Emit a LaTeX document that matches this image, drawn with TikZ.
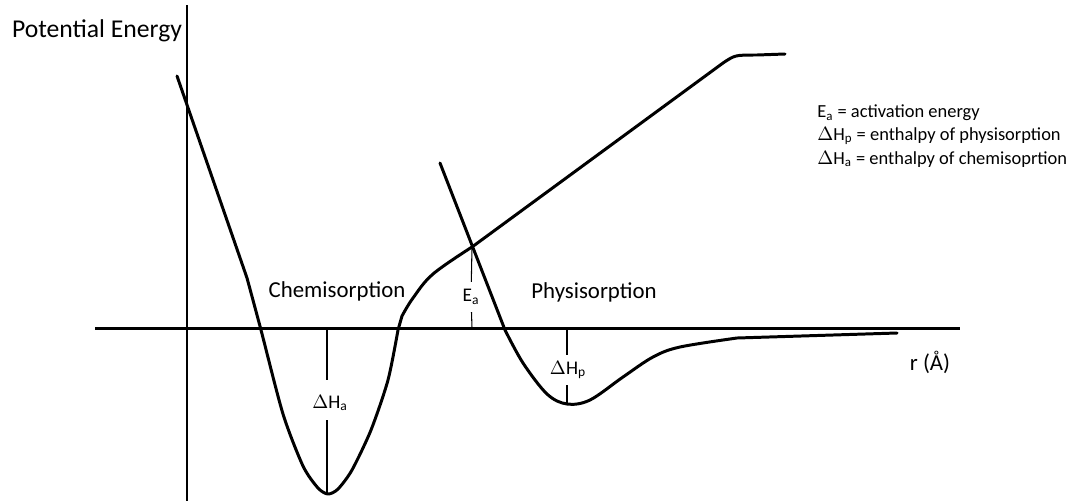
\documentclass[tikz,border=0pt]{standalone}
\usepackage{fontspec}
\setmainfont{Carlito}
\begin{document}
\begin{tikzpicture}[x=0.02cm,y=-0.02cm,
    axis/.style={line width=1.7pt},
    curve/.style={line width=1.7pt,line join=round,line cap=round},
    guide/.style={line width=0.6pt},
    lbl/.style={font=\fontsize{13}{15}\selectfont,inner sep=0pt},
    small/.style={font=\fontsize{11}{13}\selectfont,inner sep=2pt},
    legend/.style={font=\fontsize{10.5}{12}\selectfont,anchor=west,inner sep=0pt}]
    \useasboundingbox (0,0) rectangle (1087,501);

    % Axes
    \coordinate (ytop) at (187,5);
    \coordinate (ybot) at (187,501);
    \coordinate (xleft) at (95,328);
    \coordinate (xright) at (960,328);
    \draw[axis] (ytop) -- (ybot);
    \draw[axis] (xleft) -- (xright);
    \node[lbl,font=\fontsize{14.6}{16}\selectfont] (ylab) at (97,31) {Potential Energy};
    \node[lbl] (xlab) at (930,362) {r (Å)};

    % Chemisorption curve
    \draw[curve] (177,76) -- (247,278)
        plot[smooth,tension=0.45] coordinates {(247,278) (261,330) (283,414) (303,466) (318,488) (328,494) (338,489) (352,470) (371,430) (388,380) (398,330)}
        -- (402,316)
        plot[smooth,tension=0.6] coordinates {(402,316) (413,298) (433,274) (472,247)}
        -- (723,63) .. controls (735,55) .. (757,55) -- (785,54);
    \node[lbl] (chem) at (337,291) {Chemisorption};

    % Physisorption curve
    \draw[curve] (440,163) -- (505,330)
        plot[smooth,tension=0.55] coordinates {(505,330) (523,363) (547,394) (567,404) (590,400) (623,377) (653,357) (680,347) (737,338)}
        -- (897,333);
    \node[lbl] (phys) at (594,292) {Physisorption};

    % Activation energy
    \coordinate (eatop) at (472,247);
    \coordinate (eabot) at (472,328);
    \node[small,inner sep=4pt] (ealab) at (471,297) {E\textsubscript{a}};
    \draw[guide] (eatop) -- (ealab);
    \draw[guide] (ealab) -- (eabot);

    % Enthalpy of chemisorption
    \coordinate (hatop) at (327,330);
    \coordinate (habot) at (327,494);
    \node[small,inner sep=0pt] (halab) at (330,403) {$\Delta$H\textsubscript{a}};
    \draw[guide] (hatop) -- (327,380);
    \draw[guide] (327,420) -- (habot);

    % Enthalpy of physisorption
    \coordinate (hptop) at (567,330);
    \coordinate (hpbot) at (567,404);
    \node[small,inner sep=0pt] (hplab) at (568,370) {$\Delta$H\textsubscript{p}};
    \draw[guide] (hptop) -- (567,355);
    \draw[guide] (567,385) -- (hpbot);

    % Legend
    \node[legend] (leg1) at (817,113) {E\textsubscript{a} = activation energy};
    \node[legend] (leg2) at (817,136) {$\Delta$H\textsubscript{p} = enthalpy of physisorption};
    \node[legend] (leg3) at (817,159) {$\Delta$H\textsubscript{a} = enthalpy of chemisoprtion};
\end{tikzpicture}
\end{document}
